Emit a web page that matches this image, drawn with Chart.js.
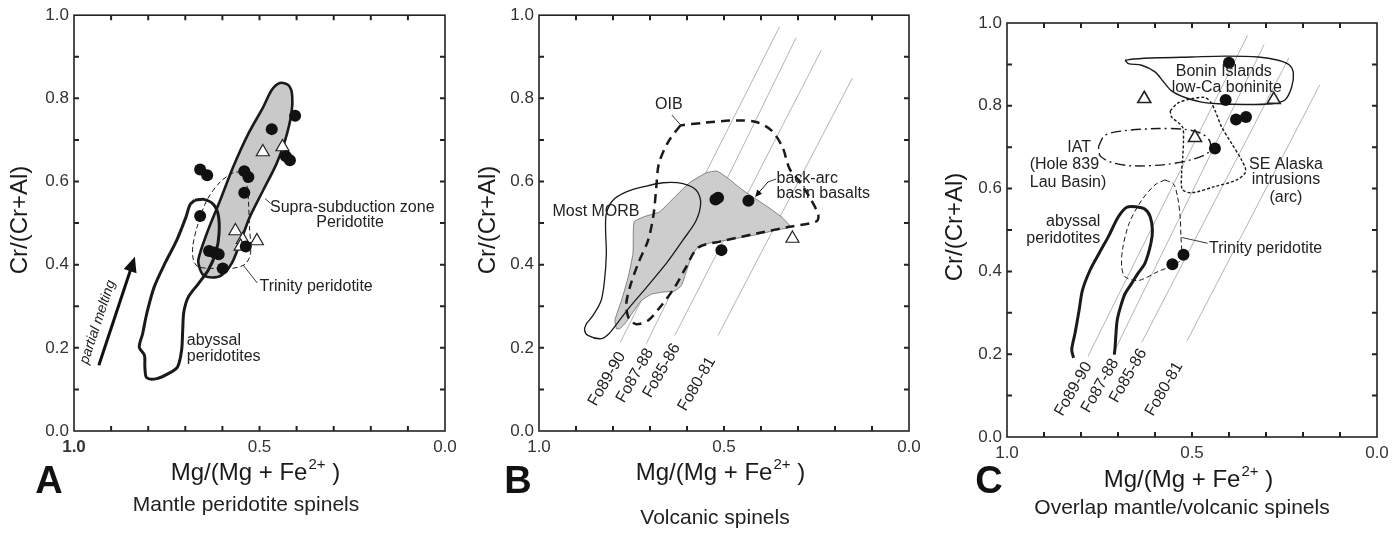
<!DOCTYPE html>
<html lang="en">
<head>
  <meta charset="UTF-8" />
  <title>Spinel Cr# vs Mg#</title>
  <script src="https://cdn.jsdelivr.net/npm/chart.js"></script>
  <style>
    body { margin: 0; background: #fff; }
    #wrap { position: relative; width: 1395px; height: 540px; }
    .panel { position: absolute; top: 0; width: 465px; height: 540px; }
  </style>
</head>
<body>
  <div id="wrap">
    <div class="panel" style="left:0"><canvas id="chartA"></canvas></div>
    <div class="panel" style="left:465px"><canvas id="chartB"></canvas></div>
    <div class="panel" style="left:930px"><canvas id="chartC"></canvas></div>
  </div>

  <script>
    const FONT = "'Liberation Sans', Arial, Helvetica, sans-serif";

    // labelled ticks
    const xTickLabels = [1.0, 0.5, 0.0];
    const yTickLabels = [0.0, 0.2, 0.4, 0.6, 0.8, 1.0];
    const foNames = ['Fo89-90', 'Fo87-88', 'Fo85-86', 'Fo80-81'];

    // ---- panel A : mantle peridotite spinels ----
    const aCircles = [[0.404, 0.758], [0.467, 0.726], [0.429, 0.661], [0.418, 0.651], [0.660, 0.629], [0.641, 0.615],
      [0.541, 0.625], [0.530, 0.611], [0.541, 0.573], [0.660, 0.517], [0.537, 0.444], [0.636, 0.433],
      [0.622, 0.429], [0.610, 0.425], [0.599, 0.391]];
    const aTriangles = [[0.491, 0.671], [0.438, 0.683], [0.565, 0.481], [0.545, 0.460], [0.551, 0.444], [0.507, 0.457]];
    const aSszField = [[0.660, 0.387], [0.665, 0.411], [0.642, 0.475], [0.606, 0.555], [0.571, 0.635], [0.530, 0.715],
      [0.490, 0.779], [0.467, 0.820], [0.445, 0.837], [0.422, 0.832], [0.412, 0.808], [0.414, 0.763], [0.431, 0.699],
      [0.454, 0.643], [0.490, 0.579], [0.526, 0.515], [0.553, 0.451], [0.575, 0.403], [0.602, 0.375], [0.629, 0.369],
      [0.651, 0.375]];
    const aAbyssal = [[0.674, 0.555], [0.650, 0.557], [0.624, 0.545], [0.611, 0.519], [0.609, 0.475], [0.617, 0.431],
      [0.638, 0.387], [0.665, 0.354], [0.692, 0.322], [0.704, 0.286], [0.707, 0.242], [0.710, 0.194], [0.721, 0.154],
      [0.746, 0.138], [0.777, 0.126], [0.804, 0.128], [0.809, 0.154], [0.810, 0.182], [0.824, 0.202], [0.815, 0.234],
      [0.804, 0.282], [0.784, 0.346], [0.755, 0.403], [0.723, 0.459], [0.698, 0.515], [0.687, 0.545]];
    const aTrinity = [[0.553, 0.623], [0.536, 0.599], [0.530, 0.555], [0.527, 0.491], [0.524, 0.427], [0.539, 0.401],
      [0.575, 0.391], [0.624, 0.391], [0.665, 0.395], [0.678, 0.411], [0.680, 0.443], [0.668, 0.491], [0.642, 0.555],
      [0.606, 0.599], [0.571, 0.621]];

    // ---- panel B : volcanic spinels ----
    const bCircles = [[0.516, 0.561], [0.523, 0.557], [0.434, 0.554], [0.507, 0.435]];
    const bTriangles = [[0.315, 0.463]];
    const bBackArc = [[0.791, 0.246], [0.795, 0.266], [0.777, 0.314], [0.759, 0.370], [0.746, 0.427], [0.743, 0.503],
      [0.714, 0.516], [0.674, 0.527], [0.633, 0.563], [0.593, 0.597], [0.548, 0.621], [0.519, 0.625], [0.494, 0.611],
      [0.449, 0.579], [0.395, 0.547], [0.345, 0.515], [0.321, 0.491], [0.359, 0.483], [0.413, 0.472], [0.467, 0.463],
      [0.539, 0.452], [0.570, 0.443], [0.588, 0.419], [0.602, 0.383], [0.615, 0.350], [0.633, 0.337], [0.665, 0.334],
      [0.696, 0.329], [0.723, 0.314], [0.746, 0.286], [0.768, 0.258], [0.782, 0.246]];
    const bMorb = [[0.872, 0.258], [0.877, 0.244], [0.868, 0.230], [0.832, 0.222], [0.811, 0.234], [0.786, 0.262],
      [0.755, 0.298], [0.710, 0.345], [0.656, 0.403], [0.611, 0.459], [0.575, 0.507], [0.563, 0.551], [0.575, 0.579],
      [0.611, 0.595], [0.665, 0.597], [0.719, 0.587], [0.764, 0.575], [0.800, 0.555], [0.818, 0.523], [0.820, 0.483],
      [0.818, 0.427], [0.823, 0.362], [0.832, 0.314], [0.854, 0.278]];
    const bOib = [[0.618, 0.735], [0.651, 0.695], [0.676, 0.643], [0.683, 0.587], [0.690, 0.523], [0.705, 0.459],
      [0.732, 0.403], [0.753, 0.350], [0.764, 0.306], [0.757, 0.270], [0.737, 0.257], [0.705, 0.266], [0.669, 0.302],
      [0.633, 0.346], [0.602, 0.395], [0.570, 0.441], [0.503, 0.457], [0.413, 0.475], [0.323, 0.491], [0.250, 0.504],
      [0.245, 0.519], [0.264, 0.555], [0.295, 0.599], [0.323, 0.631], [0.342, 0.683], [0.372, 0.723], [0.413, 0.743],
      [0.467, 0.747], [0.557, 0.741]];
    const bFoLines = [[[0.780, 0.214], [0.350, 0.972]], [[0.710, 0.210], [0.305, 0.946]],
      [[0.633, 0.230], [0.237, 0.916]], [[0.516, 0.230], [0.153, 0.849]]];
    const bFoLabelAt = [[0.776, 0.187], [0.700, 0.195], [0.628, 0.207], [0.533, 0.175]];

    // ---- panel C : overlap mantle/volcanic spinels ----
    const cCircles = [[0.400, 0.904], [0.409, 0.814], [0.381, 0.767], [0.354, 0.773], [0.438, 0.697], [0.523, 0.440], [0.553, 0.417]];
    const cTriangles = [[0.629, 0.817], [0.279, 0.815], [0.492, 0.723]];
    const cBonin = [[0.681, 0.910], [0.672, 0.902], [0.636, 0.898], [0.600, 0.882], [0.577, 0.858], [0.555, 0.836],
      [0.519, 0.820], [0.474, 0.809], [0.429, 0.805], [0.357, 0.803], [0.285, 0.805], [0.249, 0.814], [0.231, 0.844],
      [0.226, 0.878], [0.236, 0.898], [0.267, 0.910], [0.321, 0.918], [0.411, 0.920], [0.501, 0.918], [0.591, 0.916],
      [0.658, 0.913]];
    const cIat = [[0.753, 0.701], [0.735, 0.729], [0.681, 0.740], [0.591, 0.745], [0.519, 0.743], [0.474, 0.733],
      [0.451, 0.713], [0.456, 0.687], [0.501, 0.670], [0.573, 0.658], [0.663, 0.655], [0.717, 0.663], [0.748, 0.679]];
    const cAlaska = [[0.559, 0.788], [0.537, 0.807], [0.501, 0.817], [0.465, 0.820], [0.450, 0.809], [0.438, 0.789],
      [0.420, 0.749], [0.393, 0.709], [0.366, 0.669], [0.355, 0.641], [0.379, 0.621], [0.438, 0.605], [0.501, 0.590],
      [0.526, 0.598], [0.528, 0.637], [0.525, 0.677], [0.523, 0.717], [0.526, 0.749], [0.555, 0.773]];
    const cTrinity = [[0.573, 0.621], [0.550, 0.611], [0.539, 0.580], [0.532, 0.532], [0.530, 0.484], [0.528, 0.436],
      [0.539, 0.420], [0.591, 0.400], [0.645, 0.378], [0.681, 0.387], [0.690, 0.412], [0.688, 0.452], [0.670, 0.516],
      [0.636, 0.572], [0.600, 0.609]];
    const cAbyssal = [[0.820, 0.191], [0.825, 0.211], [0.816, 0.251], [0.805, 0.307], [0.796, 0.355], [0.775, 0.404],
      [0.751, 0.444], [0.726, 0.484], [0.699, 0.532], [0.676, 0.555], [0.652, 0.556], [0.627, 0.550], [0.613, 0.532],
      [0.607, 0.500], [0.611, 0.468], [0.627, 0.420], [0.647, 0.394], [0.663, 0.371], [0.681, 0.346], [0.693, 0.315],
      [0.702, 0.283], [0.706, 0.243], [0.708, 0.215], [0.710, 0.199]];
    const cFoLines = [[[0.781, 0.195], [0.350, 0.970]], [[0.710, 0.207], [0.305, 0.948]],
      [[0.636, 0.228], [0.238, 0.916]], [[0.514, 0.231], [0.155, 0.850]]];
    const cFoLabelAt = [[0.780, 0.178], [0.708, 0.186], [0.632, 0.210], [0.535, 0.178]];

    // ---- helpers ----
    const pts = arr => arr.map(([x, y]) => ({ x, y }));
    const closed = arr => pts([...arr, arr[0]]);

    function circles(arr) {
      return { data: pts(arr), pointStyle: 'circle', pointRadius: 6, backgroundColor: '#111', borderWidth: 0, order: 0 };
    }
    function triangles(arr, bw) {
      return { data: pts(arr), pointStyle: 'triangle', pointRadius: 7.5, backgroundColor: '#fff', borderColor: '#222', borderWidth: bw, order: 1 };
    }
    function outline(arr, opts, open) {
      return Object.assign({
        data: open ? pts(arr) : closed(arr), showLine: true, pointRadius: 0, borderColor: '#1a1a1a',
        borderWidth: 1.2, fill: false, tension: 0.3, order: 3
      }, opts);
    }
    function foLines(lines) {
      return lines.map(l => ({ data: pts(l), showLine: true, pointRadius: 0, borderColor: '#b4b4b4', borderWidth: 1, order: 8 }));
    }
    function foLabels(at) {
      return at.map((p, i) => ({ t: foNames[i], x: p[0], y: p[1], rot: -60, align: 'right', size: 16 }));
    }

    function decorPlugin(deco) {
      return {
        id: 'decor',
        afterDraw(chart) {
          const { ctx, chartArea: a } = chart;
          const sx = chart.scales.x, sy = chart.scales.y;
          const P = (p) => [sx.getPixelForValue(p[0]), sy.getPixelForValue(p[1])];
          ctx.save();
          // frame and inward ticks
          ctx.strokeStyle = '#222';
          ctx.lineWidth = 1.6;
          ctx.strokeRect(a.left, a.top, a.right - a.left, a.bottom - a.top);
          ctx.lineWidth = 2;
          ctx.beginPath();
          for (let i = 1; i < 10; i++) {
            const px = sx.getPixelForValue(i / 10), py = sy.getPixelForValue(i / 10);
            ctx.moveTo(px, a.bottom); ctx.lineTo(px, a.bottom - 5);
            ctx.moveTo(px, a.top); ctx.lineTo(px, a.top + 5);
            ctx.moveTo(a.left, py); ctx.lineTo(a.left + 5, py);
            ctx.moveTo(a.right, py); ctx.lineTo(a.right - 5, py);
          }
          ctx.stroke();

          // leader lines
          ctx.lineWidth = 0.9;
          ctx.strokeStyle = '#222';
          (deco.leaders || []).forEach(l => {
            ctx.beginPath();
            l.forEach((p, i) => { const [x, y] = P(p); i ? ctx.lineTo(x, y) : ctx.moveTo(x, y); });
            ctx.stroke();
          });
          // arrows
          (deco.arrows || []).forEach(ar => {
            const [x1, y1] = P(ar.from), [x2, y2] = P(ar.to);
            const ang = Math.atan2(y2 - y1, x2 - x1);
            const h = ar.head;
            ctx.lineWidth = ar.w;
            ctx.strokeStyle = '#111';
            ctx.fillStyle = '#111';
            ctx.beginPath();
            ctx.moveTo(x1, y1);
            ctx.lineTo(x2 - Math.cos(ang) * h * 0.8, y2 - Math.sin(ang) * h * 0.8);
            ctx.stroke();
            ctx.beginPath();
            ctx.moveTo(x2, y2);
            ctx.lineTo(x2 - h * Math.cos(ang) + h * 0.45 * Math.sin(ang), y2 - h * Math.sin(ang) - h * 0.45 * Math.cos(ang));
            ctx.lineTo(x2 - h * Math.cos(ang) - h * 0.45 * Math.sin(ang), y2 - h * Math.sin(ang) + h * 0.45 * Math.cos(ang));
            ctx.closePath();
            ctx.fill();
          });

          // in-plot texts
          ctx.fillStyle = '#222';
          ctx.textBaseline = 'middle';
          (deco.texts || []).forEach(tx => {
            const [x, y] = P([tx.x, tx.y]);
            ctx.save();
            ctx.translate(x, y);
            if (tx.rot) ctx.rotate(tx.rot * Math.PI / 180);
            ctx.font = (tx.italic ? 'italic ' : '') + (tx.size || 16) + 'px ' + FONT;
            ctx.textAlign = tx.align || 'center';
            ctx.fillText(tx.t, 0, 0);
            ctx.restore();
          });

          // axis titles
          ctx.fillStyle = '#1a1a1a';
          ctx.save();
          ctx.translate(deco.yTitle.x, deco.yTitle.y);
          ctx.rotate(-Math.PI / 2);
          ctx.font = '24px ' + FONT;
          ctx.textAlign = 'center';
          ctx.fillText('Cr/(Cr+Al)', 0, 0);
          ctx.restore();

          ctx.textBaseline = 'alphabetic';
          ctx.textAlign = 'left';
          const main = 'Mg/(Mg + Fe', sup = '2+', tail = ' )';
          ctx.font = '24px ' + FONT;
          const w1 = ctx.measureText(main).width, w3 = ctx.measureText(tail).width;
          ctx.font = '15px ' + FONT;
          const w2 = ctx.measureText(sup).width;
          let xx = deco.xTitle.x - (w1 + w2 + w3) / 2;
          ctx.font = '24px ' + FONT;
          ctx.fillText(main, xx, deco.xTitle.y);
          ctx.font = '15px ' + FONT;
          ctx.fillText(sup, xx + w1 + 1, deco.xTitle.y - 11);
          ctx.font = '24px ' + FONT;
          ctx.fillText(tail, xx + w1 + w2 + 1, deco.xTitle.y);

          ctx.textAlign = 'center';
          ctx.font = 'bold 38px ' + FONT;
          ctx.fillStyle = '#111';
          ctx.fillText(deco.letter.t, deco.letter.x, deco.letter.y);

          ctx.textBaseline = 'middle';
          ctx.font = '21px ' + FONT;
          ctx.fillStyle = '#222';
          ctx.fillText(deco.sub.t, deco.sub.x, deco.sub.y);
          ctx.restore();
        }
      };
    }

    function makeChart(id, datasets, deco) {
      return new Chart(document.getElementById(id), {
        type: 'scatter',
        data: { datasets },
        options: {
          responsive: true,
          maintainAspectRatio: false,
          animation: false,
          layout: { padding: { top: deco.pad.top, right: deco.pad.right, left: 0, bottom: 0 } },
          plugins: { legend: { display: false }, tooltip: { enabled: false } },
          scales: {
            x: {
              type: 'linear', min: 0, max: 1, reverse: true,
              border: { display: false },
              grid: { display: false, drawTicks: false },
              ticks: {
                stepSize: 0.1, padding: 6, color: '#333', autoSkip: false, maxRotation: 0,
                font: (c) => ({ size: 17, family: FONT, weight: (deco.boldOne && c.tick && c.tick.value === 1) ? 'bold' : 'normal' }),
                callback: v => xTickLabels.some(t => Math.abs(t - v) < 1e-6) ? v.toFixed(1) : ''
              },
              afterFit: s => { s.height = deco.xAxisH; }
            },
            y: {
              type: 'linear', min: 0, max: 1,
              border: { display: false },
              grid: { display: false, drawTicks: false },
              ticks: {
                stepSize: 0.1, padding: 5, color: '#333', autoSkip: false,
                font: { size: 17, family: FONT },
                callback: v => yTickLabels.some(t => Math.abs(t - v) < 1e-6) ? v.toFixed(1) : ''
              },
              afterFit: s => { s.width = deco.yAxisW; }
            }
          }
        },
        plugins: [decorPlugin(deco)]
      });
    }

    // ---- Panel A ----
    makeChart('chartA', [
      circles(aCircles),
      triangles(aTriangles, 1.2),
      outline(aTrinity, { borderWidth: 1, borderDash: [5, 3], order: 2 }),
      outline(aAbyssal, { borderWidth: 3, order: 2 }),
      outline(aSszField, { borderWidth: 2.6, fill: 'shape', backgroundColor: '#c9c9c9', order: 4 })
    ], {
      pad: { top: 15, right: 20 }, yAxisW: 74, xAxisH: 109, boldOne: true,
      letter: { t: 'A', x: 49, y: 493 },
      xTitle: { x: 255, y: 480 },
      yTitle: { x: 20, y: 220 },
      sub: { t: 'Mantle peridotite spinels', x: 246, y: 505 },
      texts: [
        { t: 'Supra-subduction zone', x: 0.250, y: 0.538 },
        { t: 'Peridotite', x: 0.256, y: 0.501 },
        { t: 'Trinity peridotite', x: 0.500, y: 0.347, align: 'left' },
        { t: 'abyssal', x: 0.696, y: 0.217, align: 'left' },
        { t: 'peridotites', x: 0.696, y: 0.179, align: 'left' },
        { t: 'partial melting', x: 0.936, y: 0.262, rot: -71.7, italic: true, size: 14 }
      ],
      leaders: [[[0.544, 0.399], [0.506, 0.356]], [[0.485, 0.559], [0.470, 0.547]]],
      arrows: [{ from: [0.933, 0.158], to: [0.836, 0.419], w: 3, head: 15 }]
    });

    // ---- Panel B ----
    makeChart('chartB', [
      circles(bCircles),
      triangles(bTriangles, 1.2),
      outline(bMorb, { borderWidth: 1.3, order: 2 }),
      outline(bOib, { borderWidth: 2.5, borderDash: [9, 6], order: 2 }),
      outline(bBackArc, { borderWidth: 0.8, borderColor: '#6a6a6a', tension: 0.15, fill: 'shape', backgroundColor: '#cdcdcd', order: 4 }),
      ...foLines(bFoLines)
    ], {
      pad: { top: 15, right: 21 }, yAxisW: 74, xAxisH: 109,
      letter: { t: 'B', x: 53, y: 493 },
      xTitle: { x: 255, y: 480 },
      yTitle: { x: 23, y: 220 },
      sub: { t: 'Volcanic spinels', x: 250, y: 518 },
      texts: [
        { t: 'OIB', x: 0.649, y: 0.784 },
        { t: 'Most MORB', x: 0.846, y: 0.527 },
        { t: 'back-arc', x: 0.358, y: 0.607, align: 'left' },
        { t: 'basin basalts', x: 0.358, y: 0.571, align: 'left' },
        ...foLabels(bFoLabelAt)
      ],
      leaders: [[[0.641, 0.760], [0.617, 0.736]], [[0.359, 0.606], [0.381, 0.599]]],
      arrows: [{ from: [0.381, 0.599], to: [0.416, 0.563], w: 1, head: 7 }]
    });

    // ---- Panel C ----
    makeChart('chartC', [
      circles(cCircles),
      triangles(cTriangles, 1.6),
      outline(cBonin, { borderWidth: 1.4 }),
      outline(cIat, { borderWidth: 1.4, borderDash: [10, 4, 2, 4] }),
      outline(cAlaska, { borderWidth: 1.4, borderDash: [3, 2] }),
      outline(cTrinity, { borderWidth: 1, borderDash: [5, 3] }),
      outline(cAbyssal, { borderWidth: 3 }, true),
      ...foLines(cFoLines)
    ], {
      pad: { top: 23, right: 18 }, yAxisW: 77, xAxisH: 103,
      letter: { t: 'C', x: 59, y: 493 },
      xTitle: { x: 258, y: 487 },
      yTitle: { x: 25, y: 227 },
      sub: { t: 'Overlap mantle/volcanic spinels', x: 252, y: 508 },
      texts: [
        { t: 'Bonin Islands', x: 0.414, y: 0.882 },
        { t: 'low-Ca boninite', x: 0.406, y: 0.845 },
        { t: 'IAT', x: 0.805, y: 0.700 },
        { t: '(Hole 839', x: 0.845, y: 0.659 },
        { t: 'Lau Basin)', x: 0.835, y: 0.614 },
        { t: 'SE Alaska', x: 0.246, y: 0.659 },
        { t: 'intrusions', x: 0.246, y: 0.621 },
        { t: '(arc)', x: 0.246, y: 0.578 },
        { t: 'abyssal', x: 0.821, y: 0.520 },
        { t: 'peridotites', x: 0.848, y: 0.480 },
        { t: 'Trinity peridotite', x: 0.454, y: 0.456, align: 'left' },
        ...foLabels(cFoLabelAt)
      ],
      leaders: [[[0.528, 0.482], [0.458, 0.468]]],
      arrows: []
    });
  </script>
</body>
</html>
